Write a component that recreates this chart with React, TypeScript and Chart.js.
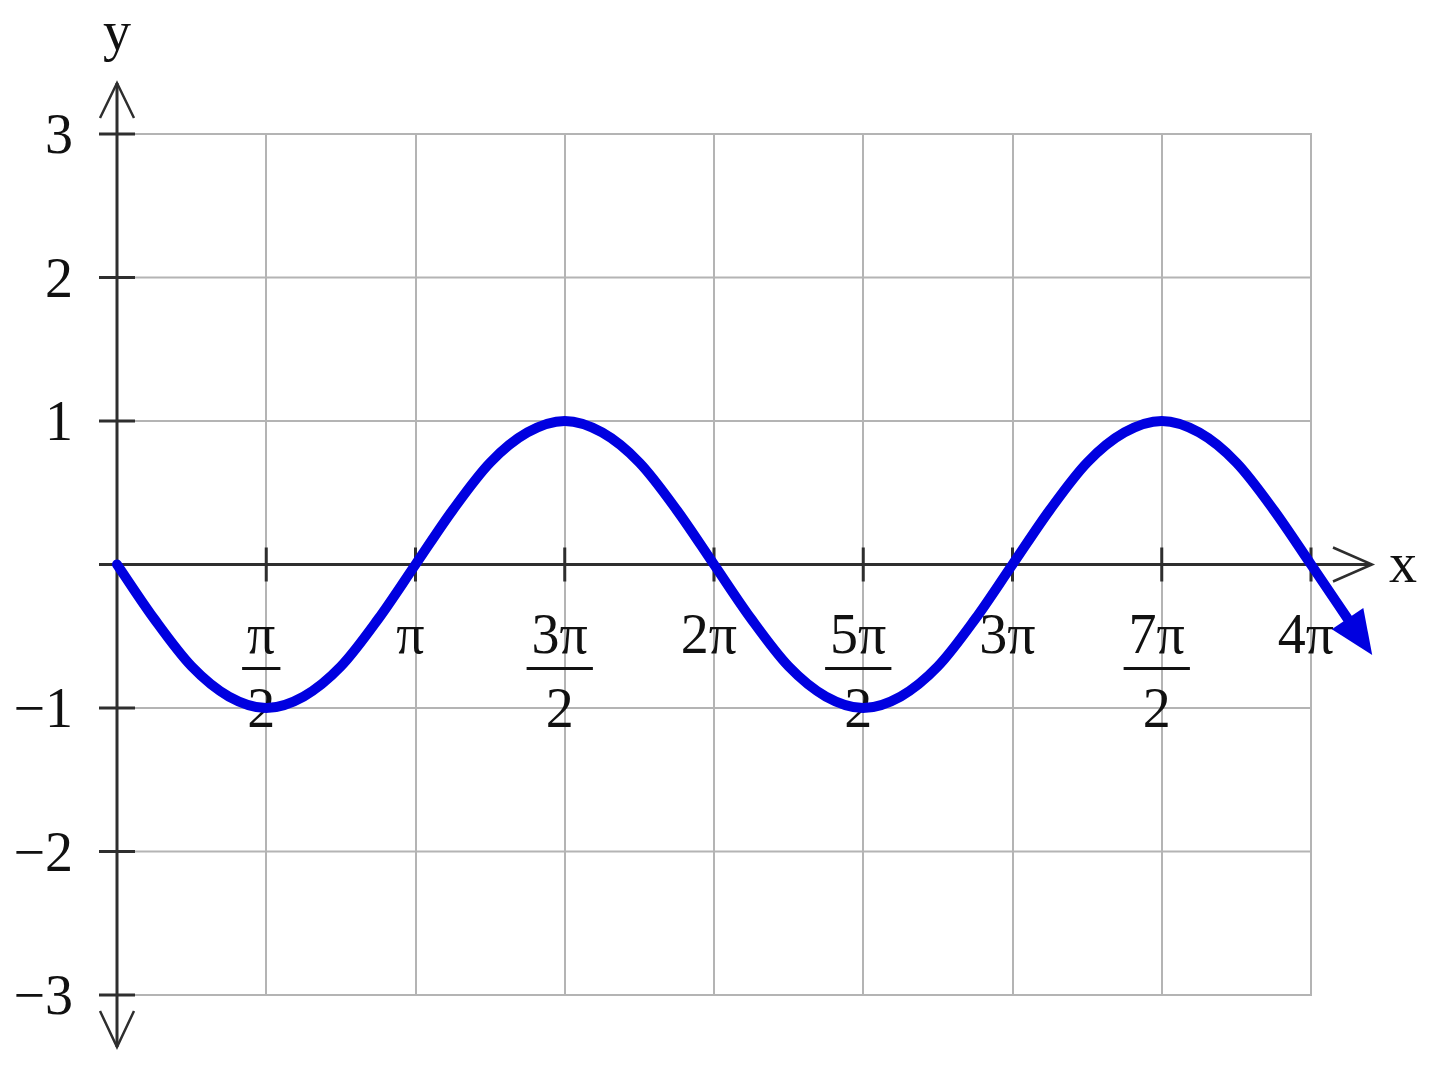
import { useEffect, useRef } from "react";
import { Chart, registerables } from "chart.js";

Chart.register(...registerables);

// Curve samples (x in units of π)
const xValues = [0, 0.125, 0.25, 0.375, 0.5, 0.625, 0.75, 0.875, 1, 1.125, 1.25, 1.375, 1.5, 1.625, 1.75, 1.875, 2, 2.125, 2.25, 2.375, 2.5, 2.625, 2.75, 2.875, 3, 3.125, 3.25, 3.375, 3.5, 3.625, 3.75, 3.875, 4, 4.13];
const yValues = [0, -0.38, -0.71, -0.92, -1, -0.92, -0.71, -0.38, 0, 0.38, 0.71, 0.92, 1, 0.92, 0.71, 0.38, 0, -0.38, -0.71, -0.92, -1, -0.92, -0.71, -0.38, 0, 0.38, 0.71, 0.92, 1, 0.92, 0.71, 0.38, 0, -0.4];

// Tick labels
const xTickValues = [0.5, 1, 1.5, 2, 2.5, 3, 3.5, 4];
const xTickNumerators = ["π", "π", "3π", "2π", "5π", "3π", "7π", "4π"];
const xTickDenominators = ["2", "", "2", "", "2", "", "2", ""];
const yTickValues = [3, 2, 1, -1, -2, -3];
const yTickLabels = ["3", "2", "1", "−1", "−2", "−3"];
const yGridValues = [3, 2, 1, 0, -1, -2, -3];
const xAxisName = "x";
const yAxisName = "y";

const X_MIN = 0;
const X_GRID_MAX = 4;
const X_MAX = 4.2;
const Y_MIN = -3;
const Y_MAX = 3;

const FONT = '"Liberation Serif", "Times New Roman", Times, serif';
const CURVE = "#0000e0";
const AXIS = "#2e2e2e";
const GRID = "#b4b4b4";

export default function App() {
  const ref = useRef<HTMLCanvasElement>(null);

  useEffect(() => {
    const canvas = ref.current;
    if (!canvas) return;

    const axesPlugin = {
      id: "axesDecor",
      beforeDatasetsDraw(chart: any) {
        const ctx = chart.ctx as CanvasRenderingContext2D;
        const xs = chart.scales.x;
        const ys = chart.scales.y;
        const x0 = xs.getPixelForValue(0);
        const y0 = ys.getPixelForValue(0);
        const yTop = ys.getPixelForValue(Y_MAX);
        const yBot = ys.getPixelForValue(Y_MIN);
        const xEnd = xs.getPixelForValue(X_GRID_MAX);
        ctx.save();
        // horizontal grid lines (limited to the 0..4π span)
        ctx.strokeStyle = GRID;
        ctx.lineWidth = 2;
        ctx.beginPath();
        for (const v of yGridValues) {
          const p = ys.getPixelForValue(v);
          ctx.moveTo(x0, p);
          ctx.lineTo(xEnd + 1, p);
        }
        ctx.stroke();

        ctx.strokeStyle = AXIS;
        ctx.lineWidth = 3;
        ctx.lineCap = "butt";
        // y axis
        ctx.beginPath();
        ctx.moveTo(x0, yTop - 51);
        ctx.lineTo(x0, yBot + 52);
        ctx.stroke();
        // x axis
        ctx.beginPath();
        ctx.moveTo(x0 - 18, y0);
        ctx.lineTo(xEnd + 60, y0);
        ctx.stroke();
        // arrow chevrons
        ctx.lineWidth = 2.5;
        ctx.beginPath();
        ctx.moveTo(x0 - 17, yTop - 16);
        ctx.lineTo(x0, yTop - 51);
        ctx.lineTo(x0 + 17, yTop - 16);
        ctx.moveTo(x0 - 17, yBot + 16);
        ctx.lineTo(x0, yBot + 52);
        ctx.lineTo(x0 + 17, yBot + 16);
        ctx.moveTo(xEnd + 22, y0 - 17);
        ctx.lineTo(xEnd + 61, y0);
        ctx.lineTo(xEnd + 22, y0 + 17);
        ctx.stroke();
        // tick marks
        ctx.lineWidth = 3;
        ctx.beginPath();
        for (const v of yTickValues) {
          const p = ys.getPixelForValue(v);
          ctx.moveTo(x0 - 18, p);
          ctx.lineTo(x0 + 18, p);
        }
        for (const v of xTickValues) {
          const p = xs.getPixelForValue(v);
          ctx.moveTo(p, y0 - 17);
          ctx.lineTo(p, y0 + 17);
        }
        ctx.stroke();

        // labels
        ctx.fillStyle = "#111";
        ctx.font = `56px ${FONT}`;
        ctx.textBaseline = "alphabetic";
        ctx.textAlign = "right";
        yTickValues.forEach((v, i) => {
          const p = ys.getPixelForValue(v);
          ctx.fillText(yTickLabels[i], x0 - 44, p + 19);
        });
        ctx.textAlign = "center";
        xTickValues.forEach((v, i) => {
          const p = xs.getPixelForValue(v) - 5;
          const num = xTickNumerators[i];
          const den = xTickDenominators[i];
          ctx.fillText(num, p, y0 + 88);
          if (den) {
            const w = ctx.measureText(num).width + 10;
            ctx.fillRect(p - w / 2, y0 + 102.5, w, 3);
            ctx.fillText(den, p, y0 + 162);
          }
        });
        ctx.textAlign = "center";
        ctx.fillText(yAxisName, x0, yTop - 84);
        ctx.textAlign = "left";
        ctx.fillText(xAxisName, xEnd + 78, y0 + 17);
        ctx.restore();
      },
      afterDatasetsDraw(chart: any) {
        const ctx = chart.ctx as CanvasRenderingContext2D;
        const xs = chart.scales.x;
        const ys = chart.scales.y;
        const n = xValues.length;
        const ex = xs.getPixelForValue(xValues[n - 1]);
        const ey = ys.getPixelForValue(yValues[n - 1]);
        const px = xs.getPixelForValue(xValues[n - 2]);
        const py = ys.getPixelForValue(yValues[n - 2]);
        let dx = ex - px;
        let dy = ey - py;
        const len = Math.hypot(dx, dy) || 1;
        dx /= len;
        dy /= len;
        const bx = ex - dx * 4;
        const by = ey - dy * 4;
        const tx = ex + dx * 40;
        const ty = ey + dy * 40;
        const nx = -dy;
        const ny = dx;
        ctx.save();
        ctx.fillStyle = CURVE;
        ctx.beginPath();
        ctx.moveTo(tx, ty);
        ctx.lineTo(bx + nx * 19, by + ny * 19);
        ctx.lineTo(bx - nx * 19, by - ny * 19);
        ctx.closePath();
        ctx.fill();
        ctx.restore();
      },
    };

    // chart area: x=0 at 117px, x=4π at 1311px
    const pxPerUnit = (1311 - 117) / X_GRID_MAX;
    const rightPad = 1440 - (117 + pxPerUnit * X_MAX);

    const chart = new Chart(canvas, {
      type: "line",
      data: {
        datasets: [
          {
            data: xValues.map((x, i) => ({ x, y: yValues[i] })),
            borderColor: CURVE,
            borderWidth: 10,
            borderCapStyle: "round",
            borderJoinStyle: "round",
            pointRadius: 0,
            cubicInterpolationMode: "monotone",
            clip: false as any,
            fill: false,
          },
        ],
      },
      options: {
        animation: false,
        responsive: false,
        devicePixelRatio: 1,
        layout: { padding: { left: 117, right: rightPad, top: 134, bottom: 76 } },
        plugins: { legend: { display: false }, tooltip: { enabled: false } },
        events: [],
        scales: {
          x: {
            type: "linear",
            min: X_MIN,
            max: X_MAX,
            ticks: { display: false, stepSize: 0.5 },
            grid: {
              color: (c: any) => (c.tick && c.tick.value > X_GRID_MAX + 1e-6 ? "rgba(0,0,0,0)" : GRID),
              lineWidth: 2,
              drawTicks: false,
            },
            border: { display: false },
          },
          y: {
            type: "linear",
            min: Y_MIN,
            max: Y_MAX,
            ticks: { display: false, stepSize: 1 },
            grid: { display: false, drawTicks: false },
            border: { display: false },
          },
        },
      },
      plugins: [axesPlugin],
    } as any);

    return () => chart.destroy();
  }, []);

  return (
    <div style={{ position: "fixed", left: 0, top: 0, width: 1440, height: 1071, background: "#fff" }}>
      <canvas ref={ref} width={1440} height={1071} style={{ display: "block", width: 1440, height: 1071 }} />
    </div>
  );
}
